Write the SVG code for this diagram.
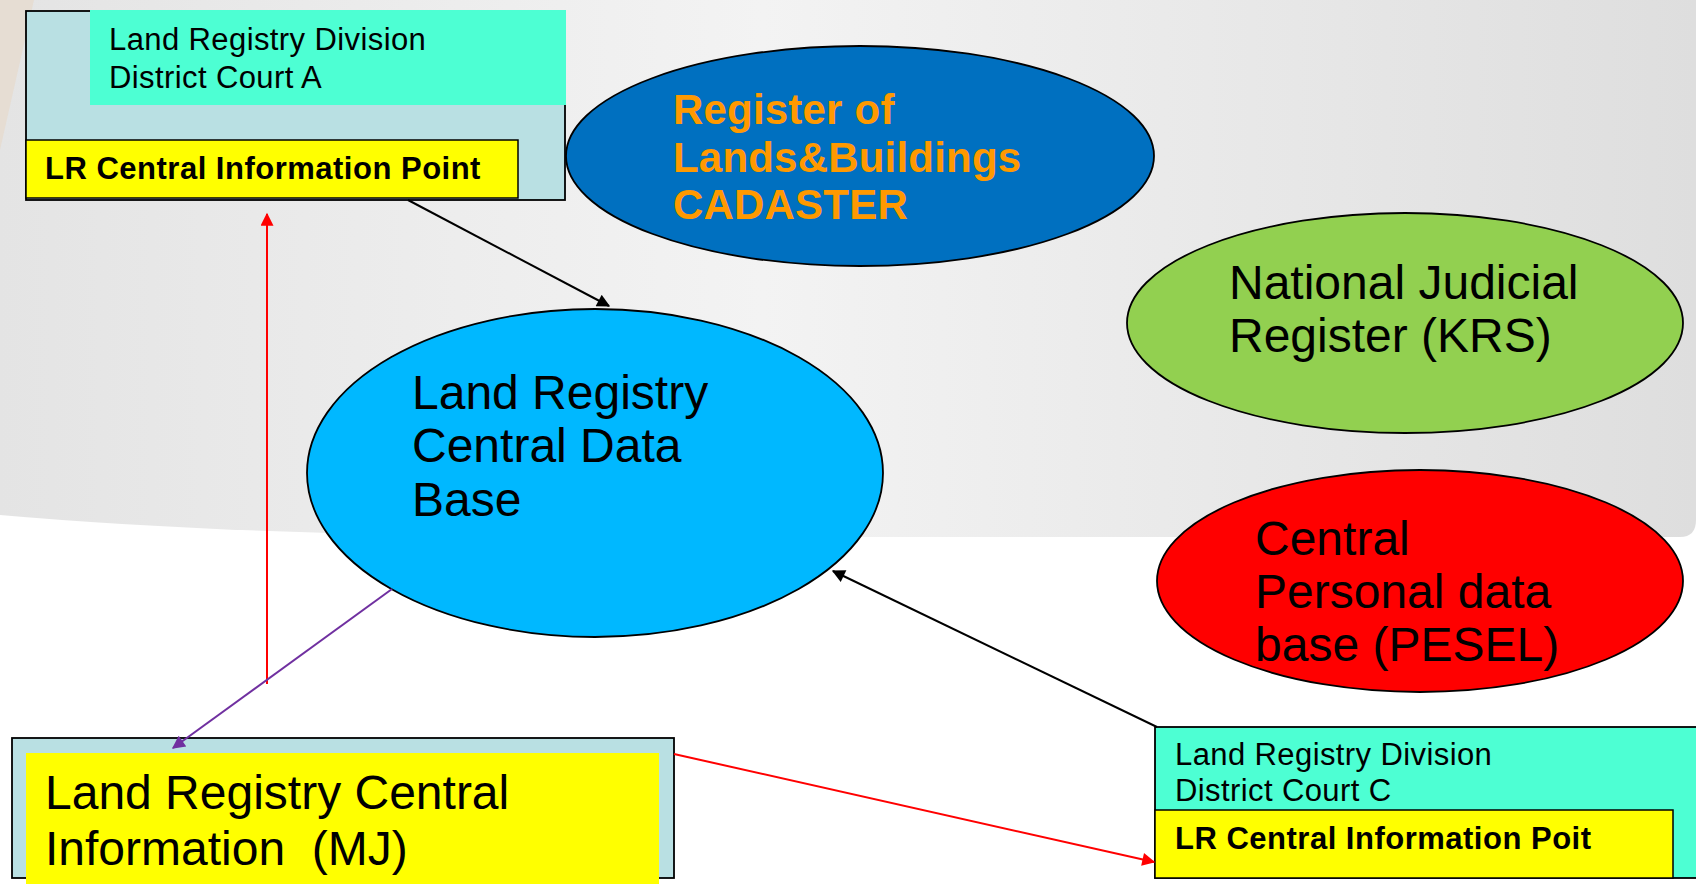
<svg xmlns="http://www.w3.org/2000/svg" width="1696" height="884" viewBox="0 0 1696 884">
<style>
text{font-family:"Liberation Sans",Arial,sans-serif;fill:#000}
.n{stroke:#000;stroke-width:1.8}
.box{fill:#b9e0e3;stroke:#000;stroke-width:1.8}
.teal{fill:#4dffd3}
.yel{fill:#ffff00;stroke:#000;stroke-width:1.5}
.s29{font-size:31px;letter-spacing:0.4px}
.b29{font-size:31px;font-weight:bold;letter-spacing:0.5px}
.s47{font-size:48px}
.o41{font-size:42px;font-weight:bold;fill:#ff9900;letter-spacing:0.2px}
.c{fill:none;stroke-width:2}
</style>
<defs>
<linearGradient id="bg" x1="0" y1="0" x2="1" y2="0">
<stop offset="0" stop-color="#e4e4e4"/>
<stop offset="0.45" stop-color="#f3f3f3"/>
<stop offset="1" stop-color="#dedede"/>
</linearGradient>
<marker id="ak" viewBox="0 0 10 10" refX="9" refY="5" markerWidth="15" markerHeight="13" markerUnits="userSpaceOnUse" orient="auto"><path d="M0,0L10,5L0,10Z" fill="#000"/></marker>
<marker id="ar" viewBox="0 0 10 10" refX="9" refY="5" markerWidth="15" markerHeight="13" markerUnits="userSpaceOnUse" orient="auto"><path d="M0,0L10,5L0,10Z" fill="#ff0000"/></marker>
<marker id="ap" viewBox="0 0 10 10" refX="9" refY="5" markerWidth="15" markerHeight="13" markerUnits="userSpaceOnUse" orient="auto"><path d="M0,0L10,5L0,10Z" fill="#7030a0"/></marker>
</defs>
<rect width="1696" height="884" fill="#ffffff"/>
<path d="M0,0H1696V520Q1696,537 1680,537H620Q250,537 0,515Z" fill="url(#bg)"/>
<path d="M0,0H34L0,150Z" fill="#e6ddd3"/>

<g id="boxA">
<rect class="box" x="26" y="11" width="539" height="189"/>
<rect class="teal" x="90" y="10" width="476" height="95"/>
<text class="s29" x="109" y="50">Land Registry Division</text>
<text class="s29" x="109" y="88">District Court A</text>
<rect class="yel" x="26" y="140" width="492" height="58"/>
<text class="b29" x="45" y="179">LR Central Information Point</text>
</g>

<g id="cadaster">
<ellipse class="n" cx="860" cy="156" rx="294" ry="110" fill="#0070c0"/>
<text class="o41" x="673" y="124">Register of</text>
<text class="o41" x="673" y="172">Lands&amp;Buildings</text>
<text class="o41" x="673" y="219">CADASTER</text>
</g>

<g id="krs">
<ellipse class="n" cx="1405" cy="323" rx="278" ry="110" fill="#92d050"/>
<text class="s47" x="1229" y="299">National Judicial</text>
<text class="s47" x="1229" y="352">Register (KRS)</text>
</g>

<g id="pesel">
<ellipse class="n" cx="1420" cy="581" rx="263" ry="111" fill="#ff0000"/>
<text class="s47" x="1255" y="555">Central</text>
<text class="s47" x="1255" y="608">Personal data</text>
<text class="s47" x="1255" y="661">base (PESEL)</text>
</g>

<g id="centraldb">
<ellipse class="n" cx="595" cy="473" rx="288" ry="164" fill="#00b8ff"/>
<text class="s47" x="412" y="409">Land Registry</text>
<text class="s47" x="412" y="462">Central Data</text>
<text class="s47" x="412" y="516">Base</text>
</g>

<g id="mj">
<rect class="box" x="12" y="738" width="662" height="140"/>
<rect x="26" y="753" width="633" height="131" fill="#ffff00"/>
<text class="s47" x="45" y="809">Land Registry Central</text>
<text class="s47" x="45" y="865" xml:space="preserve">Information  (MJ)</text>
</g>

<g id="boxC">
<rect class="n teal" x="1155" y="727" width="545" height="151"/>
<text class="s29" x="1175" y="765">Land Registry Division</text>
<text class="s29" x="1175" y="801">District Court C</text>
<rect class="yel" x="1155" y="810" width="518" height="68"/>
<text class="b29" x="1175" y="849">LR Central Information Poit</text>
</g>

<g id="connectors">
<line class="c" x1="408" y1="200" x2="609" y2="306" stroke="#000" marker-end="url(#ak)"/>
<line class="c" x1="1157" y1="727" x2="833" y2="571" stroke="#000" marker-end="url(#ak)"/>
<line class="c" x1="267" y1="684" x2="267" y2="214" stroke="#ff0000" marker-end="url(#ar)"/>
<line class="c" x1="392" y1="589" x2="173" y2="748" stroke="#7030a0" marker-end="url(#ap)"/>
<line class="c" x1="674" y1="754" x2="1154" y2="862" stroke="#ff0000" marker-end="url(#ar)"/>
</g>
</svg>
